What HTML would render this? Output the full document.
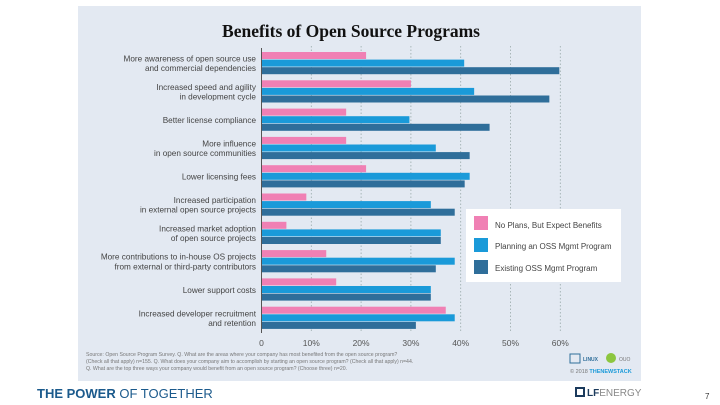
<!DOCTYPE html>
<html><head><meta charset="utf-8"><style>
body{margin:0;width:720px;height:405px;background:#fff;overflow:hidden;font-family:"Liberation Sans",sans-serif;position:relative}
#card{position:absolute;left:78px;top:6px;width:563px;height:375px;background:#e3e9f2}
</style></head><body>
<div id="card"></div>
<svg id="chart" width="720" height="405" style="position:absolute;left:0;top:0">
<text x="351" y="37" text-anchor="middle" font-family="Liberation Serif,serif" font-weight="bold" font-size="17.5" fill="#111">Benefits of Open Source Programs</text>
<g id="grid"></g><g id="bars"></g><g id="labels"></g><g id="ticks"></g>
<line x1="261.5" y1="48" x2="261.5" y2="333" stroke="#555" stroke-width="1"/>
<g>
<rect x="466" y="209" width="155" height="73" fill="#fff"/>
<rect x="474" y="216" width="14" height="14" fill="#f080b4"/><text x="495" y="228" font-size="8" fill="#444">No Plans, But Expect Benefits</text>
<rect x="474" y="238" width="14" height="14" fill="#1a9ad9"/><text x="495" y="249" font-size="8" fill="#444">Planning an OSS Mgmt Program</text>
<rect x="474" y="260" width="14" height="14" fill="#2f6e9a"/><text x="495" y="271" font-size="8" fill="#444">Existing OSS Mgmt Program</text>
</g>
<g font-size="5.2" fill="#777">
<text x="86" y="356">Source: Open Source Program Survey. Q. What are the areas where your company has most benefited from the open source program?</text>
<text x="86" y="363">(Check all that apply) n=155. Q. What does your company aim to accomplish by starting an open source program? (Check all that apply) n=44.</text>
<text x="86" y="370">Q. What are the top three ways your company would benefit from an open source program? (Choose three) n=20.</text>
</g>
<g>
<rect x="570" y="354" width="10" height="9" fill="none" stroke="#2f6e9a"/><text x="583" y="361" font-size="5" fill="#2f6e9a" font-weight="bold">LINUX</text>
<circle cx="611" cy="358" r="5" fill="#8cc63f"/><text x="619" y="361" font-size="5" fill="#777">OUO</text>
<text x="570" y="373" font-size="5.5" fill="#777">© 2018 <tspan fill="#1a9ad9" font-weight="bold">THENEWSTACK</tspan></text>
</g>
<text x="37" y="398" font-size="13" fill="#1b5a8c"><tspan font-weight="bold">THE POWER</tspan> OF TOGETHER</text>
<g><rect x="576" y="388" width="8" height="8" fill="none" stroke="#1b3a5c" stroke-width="2"/><text x="587" y="396" font-size="10" fill="#1b3a5c"><tspan font-weight="bold">LF</tspan><tspan fill="#888">ENERGY</tspan></text></g>
<text x="705" y="399" font-size="8" fill="#333">7</text>
</svg>
<script>
const categories=[["More awareness of open source use","and commercial dependencies"],["Increased speed and agility","in development cycle"],["Better license compliance"],["More influence","in open source communities"],["Lower licensing fees"],["Increased participation","in external open source projects"],["Increased market adoption","of open source projects"],["More contributions to in-house OS projects","from external or third-party contributors"],["Lower support costs"],["Increased developer recruitment","and retention"]];
const noPlans=[21,30,17,17,21,9,5,13,15,37];
const planning=[40.7,42.7,29.7,35,41.8,34,36,38.8,34,38.8];
const existing=[59.8,57.8,45.8,41.8,40.8,38.8,36,35,34,31];
const tickValues=[0,10,20,30,40,50,60];
const tickLabels=["0","10%","20%","30%","40%","50%","60%"];
const x0=261.5,pxPer=4.98,gTop=52,gStep=28.3,bh=7.6;
const xs=v=>x0+v*pxPer;
const NS="http://www.w3.org/2000/svg";
function mk(tag,attrs,parent){const e=document.createElementNS(NS,tag);for(const k in attrs)e.setAttribute(k,attrs[k]);document.getElementById(parent).appendChild(e);return e;}
tickValues.forEach((t,i)=>{
 if(t>0){const l=mk('line',{x1:xs(t),x2:xs(t),y1:46,y2:333,stroke:'#9aa',"stroke-width":0.8,"stroke-dasharray":'1.5,2'},'grid');
 
 }
 const tx=mk('text',{x:xs(t),y:346,"text-anchor":'middle',"font-size":8.5,fill:'#555'},'ticks');tx.textContent=tickLabels[i];
 
 
});
const series=[[noPlans,'#f080b4','bar-no-plans'],[planning,'#1a9ad9','bar-planning'],[existing,'#2f6e9a','bar-existing']];
categories.forEach((c,i)=>{
 const gy=gTop+i*gStep;
 series.forEach((s,j)=>{
  const r=mk('rect',{x:x0,y:gy+j*bh,width:xs(s[0][i])-x0,height:bh-0.6,fill:s[1]},'bars');
  
  
 });
 const cy=gy+bh*1.5;
 c.forEach((line,k)=>{
  const t=mk('text',{x:256,y:cy+3-(c.length-1)*4.8+k*9.6,"text-anchor":'end',"font-size":8.2,fill:'#444'},'labels');
  t.textContent=line;
  
  
 });
});
</script>
</body></html>
